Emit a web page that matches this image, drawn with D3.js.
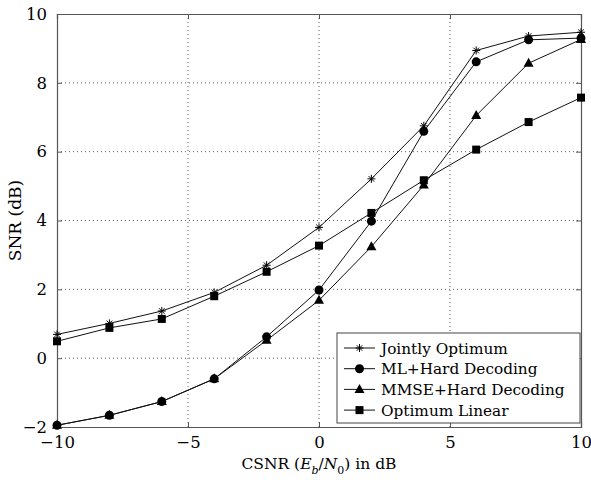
<!DOCTYPE html>
<html>
<head>
<meta charset="utf-8">
<script src="https://cdn.jsdelivr.net/npm/d3@7"></script>
<style>
  body { margin: 0; background: #fff; }
  svg { display: block; }
</style>
</head>
<body>
<svg id="chart" width="591" height="484"></svg>
<script>
// CSNR values in dB
const csnr = [-10, -8, -6, -4, -2, 0, 2, 4, 6, 8, 10];

const jointlyOptimum = [0.69, 1.01, 1.37, 1.91, 2.7, 3.8, 5.21, 6.75, 8.94, 9.36, 9.47];
const mlHard = [-1.95, -1.66, -1.26, -0.6, 0.62, 1.98, 3.98, 6.59, 8.61, 9.25, 9.3];
const mmseHard = [-1.95, -1.66, -1.26, -0.6, 0.52, 1.68, 3.24, 5.03, 7.05, 8.57, 9.26];
const optimumLinear = [0.49, 0.88, 1.14, 1.8, 2.51, 3.27, 4.22, 5.17, 6.06, 6.86, 7.57];

const seriesNames = ["Jointly Optimum", "ML+Hard Decoding", "MMSE+Hard Decoding", "Optimum Linear"];
const seriesMarkers = ["star", "circle", "triangle", "square"];

const xTicks = [-10, -5, 0, 5, 10];
const yTicks = [-2, 0, 2, 4, 6, 8, 10];

const serif = '"DejaVu Serif", "Liberation Serif", serif';

const svg = d3.select("#chart");
const margin = { top: 14, right: 10, bottom: 57, left: 57 };
const width = 591 - margin.left - margin.right;
const height = 484 - margin.top - margin.bottom;

const x = d3.scaleLinear().domain([-10, 10]).range([0, width]);
const y = d3.scaleLinear().domain([-2, 10]).range([height, 0]);

const g = svg.append("g")
  .attr("transform", "translate(" + margin.left + "," + margin.top + ")");

// dotted grid
g.selectAll("line.gx")
  .data(xTicks.slice(1, -1))
  .enter().append("line")
  .attr("x1", d => x(d)).attr("x2", d => x(d))
  .attr("y1", 0).attr("y2", height)
  .attr("stroke", "#333").attr("stroke-width", 0.8)
  .attr("stroke-dasharray", "1,3");

g.selectAll("line.gy")
  .data(yTicks.slice(1, -1))
  .enter().append("line")
  .attr("x1", 0).attr("x2", width)
  .attr("y1", d => y(d)).attr("y2", d => y(d))
  .attr("stroke", "#333").attr("stroke-width", 0.8)
  .attr("stroke-dasharray", "1,3");

// axes, ticks pointing in
const axisColor = "#555";
const axBottom = g.append("g").attr("transform", "translate(0," + height + ")")
  .call(d3.axisBottom(x).tickValues(xTicks).tickSize(-5).tickPadding(9));
const axLeft = g.append("g")
  .call(d3.axisLeft(y).tickValues(yTicks).tickSize(-5).tickPadding(10));
const axTop = g.append("g")
  .call(d3.axisTop(x).tickValues(xTicks).tickSize(-5).tickFormat(""));
const axRight = g.append("g").attr("transform", "translate(" + width + ",0)")
  .call(d3.axisRight(y).tickValues(yTicks).tickSize(-5).tickFormat(""));

[axBottom, axLeft, axTop, axRight].forEach(a => {
  a.attr("font-family", serif).attr("font-size", 16.5);
  a.select(".domain").attr("stroke", axisColor).attr("stroke-width", 1.2);
  a.selectAll(".tick line").attr("stroke", axisColor);
  a.selectAll("text").attr("fill", "#000");
});

// series
const allSeries = [jointlyOptimum, mlHard, mmseHard, optimumLinear];
const line = d3.line().x((d, i) => x(csnr[i])).y(d => y(d));

function drawMarker(sel, type, cx, cy) {
  if (type === "star") {
    const s = 4;
    sel.append("path")
      .attr("d", `M${cx - s},${cy}H${cx + s}M${cx},${cy - s}V${cy + s}` +
        `M${cx - s * 0.7},${cy - s * 0.7}L${cx + s * 0.7},${cy + s * 0.7}` +
        `M${cx - s * 0.7},${cy + s * 0.7}L${cx + s * 0.7},${cy - s * 0.7}`)
      .attr("stroke", "#000").attr("stroke-width", 1);
  } else if (type === "circle") {
    sel.append("circle").attr("cx", cx).attr("cy", cy).attr("r", 4.5).attr("fill", "#000");
  } else if (type === "triangle") {
    sel.append("path")
      .attr("d", `M${cx},${cy - 5.5}L${cx + 5},${cy + 3.5}L${cx - 5},${cy + 3.5}Z`)
      .attr("fill", "#000");
  } else {
    sel.append("rect").attr("x", cx - 4).attr("y", cy - 4)
      .attr("width", 8).attr("height", 8).attr("fill", "#000");
  }
}

allSeries.forEach((vals, si) => {
  g.append("path").datum(vals)
    .attr("d", line)
    .attr("fill", "none").attr("stroke", "#111").attr("stroke-width", 1);
  const mg = g.append("g");
  vals.forEach((v, i) => drawMarker(mg, seriesMarkers[si], x(csnr[i]), y(v)));
});

// legend
const lg = svg.append("g").attr("transform", "translate(337,333)")
  .attr("font-family", serif).attr("font-size", 15.3);
lg.append("rect").attr("width", 243).attr("height", 90)
  .attr("fill", "#fff").attr("stroke", "#444").attr("stroke-width", 1);
seriesNames.forEach((name, i) => {
  const cy = 15 + i * 20.7;
  lg.append("line").attr("x1", 7).attr("x2", 38).attr("y1", cy).attr("y2", cy)
    .attr("stroke", "#111").attr("stroke-width", 1);
  drawMarker(lg, seriesMarkers[i], 22.5, cy);
  lg.append("text").attr("x", 44).attr("y", cy + 5.5).text(name);
});

// axis labels
svg.append("text")
  .attr("transform", "translate(21," + (margin.top + height / 2) + ") rotate(-90)")
  .attr("text-anchor", "middle")
  .attr("font-family", serif).attr("font-size", 17)
  .text("SNR (dB)");

const xl = svg.append("text")
  .attr("x", margin.left + width / 2)
  .attr("y", 469)
  .attr("text-anchor", "middle")
  .attr("font-family", serif).attr("font-size", 15.5);
xl.append("tspan").text("CSNR (");
xl.append("tspan").attr("font-style", "italic").text("E");
xl.append("tspan").attr("dy", 5).attr("font-size", 11).attr("font-style", "italic").text("b");
xl.append("tspan").attr("dy", -5).text("/");
xl.append("tspan").attr("font-style", "italic").text("N");
xl.append("tspan").attr("dy", 5).attr("font-size", 11).text("0");
xl.append("tspan").attr("dy", -5).text(") in dB");
</script>
</body>
</html>
